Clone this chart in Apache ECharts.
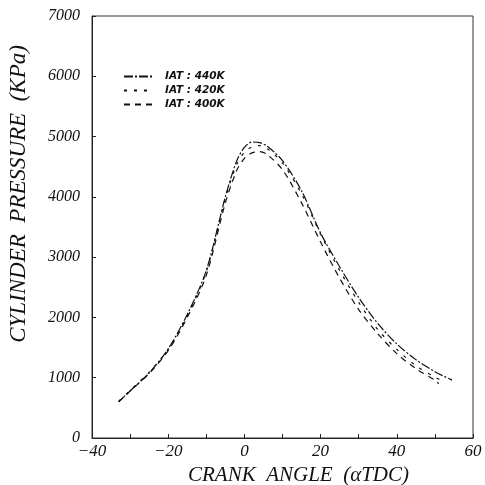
<!DOCTYPE html>
<html>
<head>
<meta charset="utf-8">
<script src="https://cdn.jsdelivr.net/npm/echarts@6/dist/echarts.min.js"></script>
<style>html,body{margin:0;padding:0;background:#fff;}#c{width:485px;height:485px;}</style>
</head>
<body>
<div id="c"></div>
<script>
var seriesNames = ['IAT : 440K', 'IAT : 420K', 'IAT : 400K'];
var angles440 = [-33, -30, -25, -20, -15, -10, -5, -2, 0, 2, 4, 6, 10, 15, 20, 25, 30, 35, 40, 45, 50, 54.5];
var p440 = [600, 780, 1080, 1480, 2050, 2780, 4000, 4600, 4820, 4910, 4900, 4840, 4600, 4100, 3400, 2840, 2330, 1900, 1560, 1300, 1100, 960];
var angles420 = [-33, -30, -25, -20, -15, -10, -5, -2, 0, 2, 4, 6, 10, 15, 20, 25, 30, 35, 40, 45, 50, 52];
var p420 = [610, 790, 1090, 1470, 2030, 2760, 3980, 4540, 4740, 4830, 4850, 4800, 4560, 4050, 3380, 2780, 2250, 1800, 1470, 1200, 1010, 950];
var angles400 = [-33, -30, -25, -20, -15, -10, -5, -2, 0, 2, 4, 6, 10, 15, 20, 25, 30, 35, 40, 45, 50, 51];
var p400 = [600, 780, 1070, 1450, 2000, 2700, 3900, 4440, 4640, 4730, 4750, 4700, 4450, 3900, 3250, 2650, 2130, 1730, 1400, 1150, 960, 900];
var xTickLabels = [-40, -20, 0, 20, 40, 60];
var yTickLabels = [0, 1000, 2000, 3000, 4000, 5000, 6000, 7000];

function pairs(xs, ys) { return xs.map(function (x, i) { return [x, ys[i]]; }); }
var styles = [
  {type: [9, 2, 2, 2], width: 1.2},
  {type: [3, 7], width: 1.2},
  {type: [6, 5], width: 1.2}
];
var datas = [pairs(angles440, p440), pairs(angles420, p420), pairs(angles400, p400)];
var serif = '"Liberation Serif", "DejaVu Serif", serif';

var chart = echarts.init(document.getElementById('c'));
chart.setOption({
  animation: false,
  backgroundColor: '#fff',
  grid: {left: 92, right: 12, top: 16, bottom: 47, show: true, borderColor: '#333', borderWidth: 1, outerBoundsMode: 'none', containLabel: false},
  legend: {
    orient: 'vertical', left: 118, top: 66, itemGap: 3, itemWidth: 30, itemHeight: 8,
    data: seriesNames,
    itemStyle: {opacity: 0},
    textStyle: {fontFamily: '"DejaVu Sans", sans-serif', fontStyle: 'italic', fontWeight: 'bold', fontSize: 10.5, color: '#111', padding: [0, 0, 0, 6]}
  },
  xAxis: {
    type: 'value', min: -40, max: 60, interval: 10,
    name: 'CRANK  ANGLE  (αTDC)', nameLocation: 'middle', nameGap: 26,
    nameTextStyle: {fontFamily: serif, fontStyle: 'italic', fontSize: 21, color: '#111', padding: [0, 0, 0, 32]},
    axisLine: {onZero: false, lineStyle: {color: '#222', width: 1}},
    axisTick: {inside: true, length: 4, lineStyle: {color: '#222'}},
    splitLine: {show: false},
    axisLabel: {
      margin: 5, fontFamily: serif, fontStyle: 'italic', fontSize: 17, color: '#111',
      formatter: function (v) { return xTickLabels.indexOf(v) >= 0 ? (v < 0 ? '\u2212' + Math.abs(v) : String(v)) : ''; }
    }
  },
  yAxis: {
    type: 'value', min: 0, max: 7000, interval: 1000,
    name: 'CYLINDER  PRESSURE  (KPa)', nameLocation: 'middle', nameGap: 62,
    nameTextStyle: {fontFamily: serif, fontStyle: 'italic', fontSize: 23, color: '#111', padding: [0, 0, 0, 66]},
    axisLine: {onZero: false, lineStyle: {color: '#222', width: 1}},
    axisTick: {inside: true, length: 4, lineStyle: {color: '#222'}},
    splitLine: {show: false},
    axisLabel: {
      margin: 12, fontFamily: serif, fontStyle: 'italic', fontSize: 16, color: '#111',
      formatter: function (v) { return yTickLabels.indexOf(v) >= 0 ? String(v) : ''; }
    }
  },
  series: seriesNames.map(function (n, i) {
    return {
      name: n, type: 'line', data: datas[i], smooth: 0.3, symbol: 'none',
      lineStyle: {color: '#111', width: styles[i].width, type: styles[i].type},
      itemStyle: {color: '#111'}
    };
  })
});
</script>
</body>
</html>
